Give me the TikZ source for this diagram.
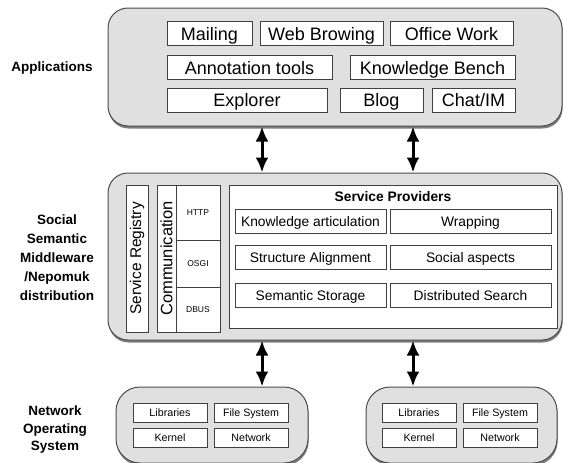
\documentclass[tikz,border=0pt]{standalone}
\usepackage{fontspec}
\setmainfont{Liberation Sans}
\usetikzlibrary{arrows.meta,shadows}

\def \boxline {0.8pt}
\def \rowh {24pt}

\tikzset{
  layer/.style={draw=black!70, line width=1pt, fill=black!12, rounded corners=20pt, inner sep=0pt,
    drop shadow={shadow xshift=0.6pt, shadow yshift=-2.5pt, fill=black!60, opacity=0.85}},
  comp/.style={draw=black!75, line width=\boxline, fill=white, inner sep=0pt, minimum height=\rowh},
  big/.style={font=\fontsize{18}{20}\selectfont, text height=13pt, text depth=0pt},
  mid/.style={font=\fontsize{13.8}{16}\selectfont, text height=10pt, text depth=0pt},
  small/.style={font=\fontsize{10.7}{12}\selectfont, text height=7.7pt, text depth=0pt},
  side/.style={font=\fontsize{13.5}{18.5}\selectfont\bfseries, align=center},
  link/.style={{Latex[length=15pt,width=13pt]}-{Latex[length=15pt,width=13pt]}, line width=3pt}
}

\begin{document}
\begin{tikzpicture}[x=1pt, y=-1pt]
\useasboundingbox (0,0) rectangle (563,463);

% layer labels
\node[side] (lapps) at (52,68) {Applications};
\node[side, font=\fontsize{13.5}{19}\selectfont\bfseries] (lmw) at (57,258) {Social\\Semantic\\Middleware\\/Nepomuk\\distribution};
\node[side, font=\fontsize{13.5}{17.5}\selectfont\bfseries] (los) at (55,430) {Network\\Operating\\System};

% applications
\node[layer, minimum width=454pt, minimum height=118pt] (apps) at (335,67) {};
\node[comp, big, minimum width=85pt] (mail) at (209.5,33.5) {Mailing};
\node[comp, big, minimum width=123pt] (web) at (321.5,33.5) {Web Browing};
\node[comp, big, minimum width=123pt] (office) at (451.5,33.5) {Office Work};
\node[comp, big, minimum width=165pt] (annot) at (249.5,67.5) {Annotation tools};
\node[comp, big, minimum width=165pt] (bench) at (432.5,67.5) {Knowledge Bench};
\node[comp, big, minimum width=160pt] (explorer) at (247,100) {Explorer};
\node[comp, big, minimum width=83pt] (blog) at (381.5,100) {Blog};
\node[comp, big, minimum width=83pt] (chat) at (473.5,100) {Chat/IM};

% middleware
\node[layer, minimum width=454pt, minimum height=167pt] (mw) at (335,256.5) {};
\node[comp, rotate=90, font=\fontsize{15.5}{17}\selectfont, minimum width=147pt, minimum height=22pt] (registry) at (137,258.5) {Service Registry};
\node[comp, rotate=90, font=\fontsize{16.5}{18}\selectfont, minimum width=147pt, minimum height=19pt] (comm) at (166.5,258.5) {Communication};
\node[comp, font=\fontsize{8.5}{10}\selectfont, minimum width=44pt, minimum height=55pt] (http) at (198,212.5) {HTTP};
\node[comp, font=\fontsize{8.5}{10}\selectfont, minimum width=44pt, minimum height=47pt] (osgi) at (198,263.5) {OSGI};
\node[comp, font=\fontsize{8.5}{10}\selectfont, minimum width=44pt, minimum height=45pt] (dbus) at (198,309.5) {DBUS};
\node[comp, minimum width=328pt, minimum height=143pt] (providers) at (393,256.5) {};
\node[mid, font=\fontsize{13.8}{16}\selectfont\bfseries] (ptitle) at (393,196) {Service Providers};
\node[comp, mid, minimum width=151pt] (artic) at (310.5,221) {Knowledge articulation};
\node[comp, mid, minimum width=161pt] (wrap) at (470.5,221) {Wrapping};
\node[comp, mid, minimum width=151pt] (align) at (310.5,257.5) {Structure Alignment};
\node[comp, mid, minimum width=161pt] (social) at (470.5,257.5) {Social aspects};
\node[comp, mid, minimum width=151pt] (storage) at (310.5,295) {Semantic Storage};
\node[comp, mid, minimum width=161pt] (search) at (470.5,295) {Distributed Search};

% operating systems
\node[layer, rounded corners=24pt, minimum width=192pt, minimum height=76pt] (osa) at (212,425) {};
\node[comp, small, minimum width=74pt, minimum height=19pt] (liba) at (170,412.5) {Libraries};
\node[comp, small, minimum width=74pt, minimum height=19pt] (fsa) at (251,412.5) {File System};
\node[comp, small, minimum width=74pt, minimum height=19pt] (kernela) at (170,437.5) {Kernel};
\node[comp, small, minimum width=74pt, minimum height=19pt] (neta) at (251,437.5) {Network};
\node[layer, rounded corners=24pt, minimum width=191pt, minimum height=76pt] (osb) at (461.5,425) {};
\node[comp, small, minimum width=74pt, minimum height=19pt] (libb) at (419,412.5) {Libraries};
\node[comp, small, minimum width=74pt, minimum height=19pt] (fsb) at (500,412.5) {File System};
\node[comp, small, minimum width=74pt, minimum height=19pt] (kernelb) at (419,437.5) {Kernel};
\node[comp, small, minimum width=74pt, minimum height=19pt] (netb) at (500,437.5) {Network};

% links between layers
\coordinate (la) at (262,0);
\coordinate (ra) at (413,0);
\draw[link] (apps.south -| la) -- (mw.north -| la);
\draw[link] (apps.south -| ra) -- (mw.north -| ra);
\draw[link] (mw.south -| la) -- (osa.north -| la);
\draw[link] (mw.south -| ra) -- (osb.north -| ra);
\end{tikzpicture}
\end{document}
